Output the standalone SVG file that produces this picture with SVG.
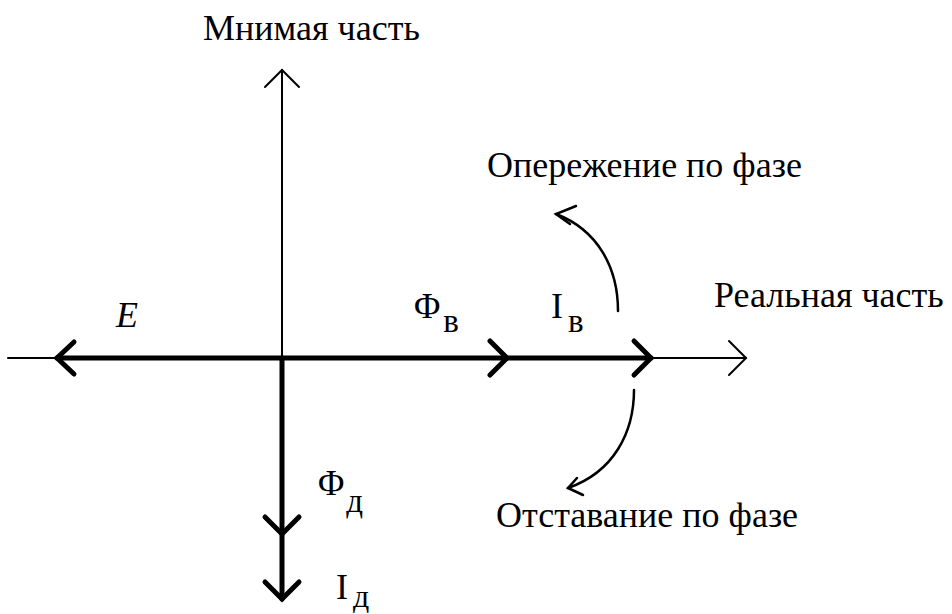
<svg xmlns="http://www.w3.org/2000/svg" width="952" height="614" viewBox="0 0 952 614">
<style>
.thin{stroke:#000;stroke-width:2;fill:none;stroke-linecap:round}
.thick{stroke:#000;stroke-width:5;fill:none;stroke-linecap:round}
.curve{stroke:#000;stroke-width:2.5;fill:none;stroke-linecap:round}
</style>
<rect width="952" height="614" fill="#fff"/>
<g id="connectors">
  <path class="thin" d="M8,358 H746"/>
  <path class="thin" d="M729,341 L746,358 L729,375"/>
  <path class="thin" d="M282,358 V70"/>
  <path class="thin" d="M265,87 L282,70 L299,87"/>
  <path class="thick" d="M282,358 H57"/>
  <path class="thick" d="M74,342 L57,358 L74,374"/>
  <path class="thick" d="M282,358 H651"/>
  <path class="thick" d="M490,341 L507,358 L490,375"/>
  <path class="thick" d="M634,341 L651,358 L634,375"/>
  <path class="thick" d="M282,358 V599"/>
  <path class="thick" d="M265,517 L282,534 L299,517"/>
  <path class="thick" d="M265,582 L282,599 L299,582"/>
  <path class="curve" d="M618,311 C618,268 598,230 556,214"/>
  <path class="curve" d="M576,206 L556,214 L570,224"/>
  <path class="curve" d="M634,390 C634,432 614,472 568,488"/>
  <path class="curve" d="M577,478 L568,488 L583,495"/>
</g>
<g font-family="Liberation Serif, 'Times New Roman', serif" font-size="36" fill="#000">
<g id="label-imag"><text x="203" y="40">Мнимая часть</text></g>
<g id="label-real"><text x="714" y="307">Реальная часть</text></g>
<g id="label-lead"><text x="487" y="177">Опережение по фазе</text></g>
<g id="label-lag"><text x="496" y="527">Отставание по фазе</text></g>
<g id="node-E"><text x="116" y="327" font-style="italic">E</text></g>
<g id="node-Phi-v"><text x="414" y="318">Φ<tspan font-size="33" dx="3" dy="14">в</tspan></text></g>
<g id="node-I-v"><text x="551" y="318">I<tspan font-size="33" dx="5" dy="14">в</tspan></text></g>
<g id="node-Phi-d"><text x="318" y="495">Φ<tspan font-size="33" dx="2" dy="17">д</tspan></text></g>
<g id="node-I-d"><text x="336" y="599">I<tspan font-size="32" dx="5" dy="8">д</tspan></text></g>
</g>
</svg>
